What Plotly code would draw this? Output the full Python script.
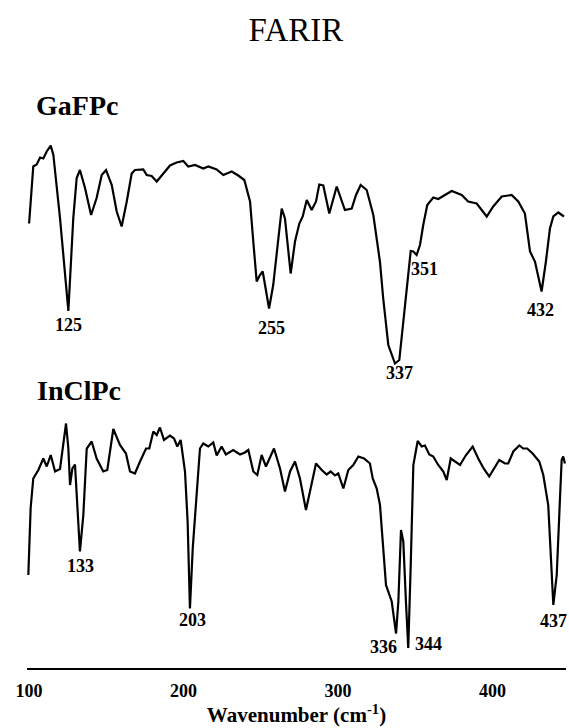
import plotly.graph_objects as go

# ---------------- data (wavenumber in cm^-1, transmittance in arbitrary offset units) -------------
gafpc_wn = [100.0, 102.7, 104.9, 107.1, 109.2, 111.4, 114.0, 115.7, 120.0, 125.4, 128.6, 130.8, 132.9,
            136.2, 140.1, 143.7, 147.0, 149.8, 153.5, 156.7, 159.9, 163.2, 166.4, 168.5, 173.9, 176.1,
            179.3, 182.6, 186.9, 191.2, 195.5, 199.8, 203.0, 207.4, 212.7, 216.0, 221.4, 225.7, 231.1,
            235.4, 239.3, 243.0, 245.1, 247.3, 249.4, 251.2, 252.7, 255.3, 258.0, 263.5, 265.6, 269.3,
            272.1, 274.9, 277.1, 279.7, 282.9, 285.7, 287.8, 290.4, 294.3, 299.1, 304.4, 308.8, 311.6,
            314.6, 318.5, 322.8, 327.1, 329.2, 332.5, 336.8, 339.6, 342.2, 344.8, 347.0, 348.7, 350.8,
            353.0, 355.1, 357.7, 361.6, 364.8, 369.2, 373.5, 380.0, 384.2, 389.7, 396.2, 400.4, 405.9,
            412.3, 416.6, 420.9, 424.2, 427.4, 431.7, 434.5, 437.1, 439.3, 442.5, 446.2]
gafpc_t = [91.3, 102.7, 103.1, 104.5, 104.3, 105.7, 106.9, 105.0, 92.4, 73.8, 92.4, 100.4, 102.0,
           98.4, 93.0, 96.4, 101.0, 102.0, 99.0, 93.7, 90.7, 95.7, 101.3, 102.0, 102.1, 101.0,
           100.8, 99.7, 101.3, 102.9, 103.5, 103.8, 102.7, 103.0, 102.3, 102.7, 102.1, 101.0, 101.7,
           100.9, 100.0, 95.7, 87.7, 79.7, 81.0, 81.7, 79.0, 74.3, 79.0, 94.3, 92.3, 81.3,
           87.7, 91.3, 92.7, 96.0, 94.0, 95.7, 99.1, 98.9, 93.3, 98.7, 94.0, 94.3, 97.0,
           99.0, 98.0, 93.0, 83.6, 76.3, 67.0, 63.3, 64.0, 71.7, 79.0, 85.8, 85.7, 85.0,
           87.0, 91.0, 95.0, 96.5, 96.2, 97.0, 97.8, 97.0, 95.7, 95.3, 92.7, 94.7, 96.7,
           97.0, 95.7, 93.3, 85.7, 83.7, 77.7, 83.7, 90.3, 92.7, 93.5, 92.7]

inclpc_wn = [99.5, 101.0, 102.7, 106.0, 109.2, 111.4, 114.0, 116.8, 120.0, 121.7, 123.9, 125.4, 126.5,
             128.0, 129.7, 132.9, 135.1, 137.3, 140.5, 143.7, 148.0, 150.6, 154.5, 158.8, 162.7, 165.3,
             168.5, 171.8, 175.7, 177.8, 180.4, 182.6, 184.7, 187.3, 191.2, 193.8, 195.9, 198.1, 200.9,
             202.6, 204.1, 205.9, 208.0, 210.6, 212.7, 216.0, 219.2, 221.4, 224.6, 227.4, 232.1, 236.5,
             239.7, 241.9, 245.1, 247.7, 250.5, 253.3, 258.5, 262.4, 265.6, 268.9, 272.1, 275.3, 279.2,
             282.9, 285.7, 289.4, 292.6, 295.2, 298.0, 300.1, 303.4, 306.6, 309.8, 313.1, 316.8, 320.6,
             322.4, 325.0, 327.1, 331.0, 334.7, 337.5, 339.0, 340.7, 342.2, 343.9, 345.4, 347.0, 348.7,
             351.5, 354.1, 356.2, 359.0, 361.6, 364.8, 368.1, 370.3, 372.9, 375.6, 378.9, 382.8, 387.1,
             390.7, 394.4, 397.8, 401.5, 404.3, 408.0, 410.1, 413.4, 417.3, 419.8, 422.4, 425.9, 430.2,
             432.8, 436.0, 439.3, 441.5, 443.6, 444.7, 445.7, 446.8]
inclpc_t = [21.0, 34.4, 40.3, 42.0, 44.3, 42.7, 45.0, 41.7, 42.2, 46.3, 51.3, 46.3, 39.0,
            42.3, 43.1, 25.7, 33.0, 46.3, 47.7, 44.3, 41.7, 42.0, 50.2, 47.0, 45.3, 41.7,
            41.3, 43.7, 46.3, 46.3, 49.7, 49.0, 50.5, 48.0, 48.9, 48.3, 46.7, 48.0, 41.7,
            31.7, 14.3, 26.3, 35.7, 46.3, 47.3, 46.7, 47.5, 44.9, 46.7, 45.1, 46.0, 45.1,
            45.5, 46.0, 41.7, 41.0, 45.0, 42.7, 46.3, 42.3, 37.7, 41.7, 43.7, 40.3, 34.0,
            39.7, 43.3, 42.0, 41.1, 41.7, 40.9, 41.3, 38.3, 42.0, 43.0, 44.7, 44.3, 43.3,
            40.3, 38.3, 35.0, 19.0, 15.7, 9.3, 15.7, 30.0, 27.7, 15.7, 6.4, 23.0, 43.0,
            47.8, 46.7, 46.9, 45.1, 44.7, 43.0, 41.7, 40.0, 44.3, 43.7, 43.0, 45.0, 46.7,
            44.3, 42.2, 40.7, 42.7, 44.0, 43.3, 43.3, 45.7, 46.9, 46.3, 46.3, 45.3, 43.7,
            41.0, 35.0, 15.0, 21.0, 36.3, 44.0, 44.7, 43.3]

# peak labels: text, wavenumber position, transmittance position
gafpc_peak_labels = ["125", "255", "337", "351", "432"]
gafpc_peak_x = [125.4, 256.6, 340.0, 355.9, 431.3]
gafpc_peak_y = [71.0, 70.5, 61.4, 82.3, 74.0]

inclpc_peak_labels = ["133", "203", "336", "344", "437"]
inclpc_peak_x = [133.1, 205.8, 329.5, 358.2, 439.7]
inclpc_peak_y = [22.9, 12.0, 6.6, 7.2, 11.9]

tick_vals = [100, 200, 300, 400]
tick_text = ["100", "200", "300", "400"]

series_names = ["GaFPc", "InClPc"]
chart_title = "FARIR"
x_title = "Wavenumber (cm<sup>-1</sup>)"

# ---------------- figure -------------
SERIF = "Liberation Serif"
fig = go.Figure()
for wn, t, name in [(gafpc_wn, gafpc_t, series_names[0]), (inclpc_wn, inclpc_t, series_names[1])]:
    fig.add_trace(go.Scatter(x=wn, y=t, mode="lines", name=name,
                             line=dict(color="black", width=2.2), showlegend=False))

annotations = []
for labels, xs, ys in [(gafpc_peak_labels, gafpc_peak_x, gafpc_peak_y),
                       (inclpc_peak_labels, inclpc_peak_x, inclpc_peak_y)]:
    for lab, x, y in zip(labels, xs, ys):
        annotations.append(dict(x=x, y=y, xref="x", yref="y", text="<b>%s</b>" % lab,
                                showarrow=False, xanchor="center", yanchor="middle",
                                font=dict(family=SERIF, size=18, color="black")))

annotations.append(dict(x=0.013, y=0.991, xref="paper", yref="paper", text="<b>%s</b>" % series_names[0],
                        showarrow=False, xanchor="left", yanchor="middle",
                        font=dict(family=SERIF, size=28, color="black")))
annotations.append(dict(x=0.015, y=0.488, xref="paper", yref="paper", text="<b>%s</b>" % series_names[1],
                        showarrow=False, xanchor="left", yanchor="middle",
                        font=dict(family=SERIF, size=28, color="black")))

fig.update_layout(
    width=569, height=728,
    margin=dict(l=27, r=3, t=100, b=60),
    paper_bgcolor="white", plot_bgcolor="white",
    title=dict(text=chart_title, x=0.499, xref="paper", y=0.959, yref="container",
               xanchor="center", yanchor="middle",
               font=dict(family=SERIF, size=33, color="black")),
    xaxis=dict(range=[98.64, 447.5], showgrid=False, zeroline=False,
               showline=True, linecolor="black", linewidth=2,
               tickvals=tick_vals, ticktext=["<b>%s</b>" % t for t in tick_text],
               ticks="", ticklabelstandoff=5,
               tickfont=dict(family=SERIF, size=18, color="black"),
               title=dict(text="<b>%s</b>" % x_title, standoff=6,
                          font=dict(family=SERIF, size=21, color="black"))),
    yaxis=dict(range=[2.4, 116], visible=False),
    annotations=annotations,
)

fig.write_html("out.html")
